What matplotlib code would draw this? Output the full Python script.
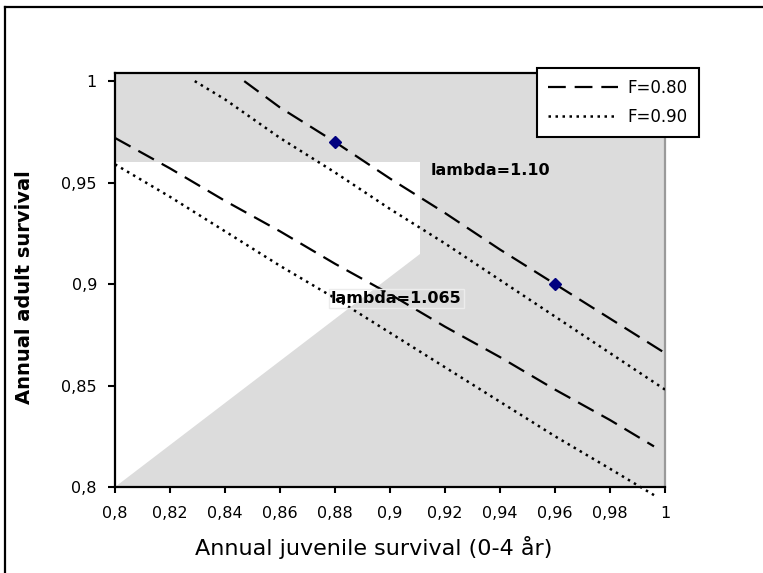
import matplotlib.pyplot as plt
import numpy as np
from matplotlib.lines import Line2D
from matplotlib.ticker import FuncFormatter

# lambda = 1.065 iso-lines
juv_low_f80 = [0.80, 0.82, 0.84, 0.86, 0.88, 0.90, 0.92, 0.94, 0.96, 0.98, 0.996]
ad_low_f80 = [0.972, 0.957, 0.941, 0.926, 0.910, 0.895, 0.879, 0.864, 0.848, 0.833, 0.820]
juv_low_f90 = [0.80, 0.82, 0.84, 0.86, 0.88, 0.90, 0.92, 0.94, 0.96, 0.98, 0.996]
ad_low_f90 = [0.959, 0.943, 0.926, 0.909, 0.893, 0.876, 0.859, 0.842, 0.825, 0.809, 0.796]

# lambda = 1.10 iso-lines
juv_high_f80 = [0.847, 0.86, 0.88, 0.90, 0.92, 0.94, 0.96, 0.98, 1.00]
ad_high_f80 = [1.000, 0.987, 0.970, 0.952, 0.935, 0.917, 0.900, 0.883, 0.866]
juv_high_f90 = [0.829, 0.84, 0.86, 0.88, 0.90, 0.92, 0.94, 0.96, 0.98, 1.00]
ad_high_f90 = [1.000, 0.991, 0.972, 0.955, 0.937, 0.920, 0.902, 0.884, 0.866, 0.848]

# observed points
pts_juv = [0.88, 0.96]
pts_ad = [0.97, 0.90]

# white (unshaded) region
white_x = [0.8, 0.8, 0.911, 0.911, 0.8]
white_y = [0.8, 0.96, 0.96, 0.915, 0.8]

xticks = [0.8, 0.82, 0.84, 0.86, 0.88, 0.9, 0.92, 0.94, 0.96, 0.98, 1.0]
yticks = [0.8, 0.85, 0.9, 0.95, 1.0]

fig = plt.figure(figsize=(7.63, 5.73), dpi=100)
ax = fig.add_axes([115 / 763, 1 - 487 / 573, 550 / 763, 414 / 573])

ax.set_facecolor('#dcdcdc')
ax.fill(white_x, white_y, color='white', lw=0, zorder=1)

ax.plot(juv_low_f80, ad_low_f80, color='black', lw=1.6, ls=(0, (8, 4)), label='F=0.80', zorder=3)
ax.plot(juv_low_f90, ad_low_f90, color='black', lw=1.8, ls=(0, (1, 1.8)), label='F=0.90', zorder=3, clip_on=False)
ax.plot(juv_high_f80, ad_high_f80, color='black', lw=1.6, ls=(0, (8, 4)), zorder=3)
ax.plot(juv_high_f90, ad_high_f90, color='black', lw=1.8, ls=(0, (1, 1.8)), zorder=3)
ax.plot(pts_juv, pts_ad, ls='none', marker='D', ms=6.5, color='#000080', zorder=4)

ax.text(0.9149, 0.956, 'lambda=1.10', fontsize=11.5, fontweight='bold', va='center', ha='left', zorder=5)
ax.text(0.8785, 0.893, 'lambda=1.065', fontsize=11.5, fontweight='bold', va='center', ha='left', zorder=5,
        bbox=dict(facecolor='none', edgecolor='#ececec', pad=1.5))

ax.set_xlim(0.8, 1.0)
ax.set_ylim(0.8, 1.004)
ax.set_xticks(xticks)
ax.set_yticks(yticks)
fmt = FuncFormatter(lambda v, p: ('%g' % v).replace('.', ','))
ax.xaxis.set_major_formatter(fmt)
ax.yaxis.set_major_formatter(fmt)
ax.tick_params(axis='x', direction='out', length=4, width=1.5, pad=10, labelsize=11.5)
ax.tick_params(axis='y', direction='out', length=5, width=1.5, pad=8, labelsize=11.5)

for s in ['left', 'bottom', 'top']:
    ax.spines[s].set_linewidth(1.6)
    ax.spines[s].set_color('black')
ax.spines['right'].set_color('#9a9a9a')
ax.spines['right'].set_linewidth(1.6)

ax.set_xlabel('Annual juvenile survival (0-4 år)', fontsize=16)
ax.xaxis.set_label_coords(0.471, -0.145)
ax.xaxis.label.set_va('center')
ax.set_ylabel('Annual adult survival', fontsize=14, fontweight='bold')
ax.yaxis.set_label_coords(-0.164, 0.483)
ax.yaxis.label.set_va('center')

leg = ax.legend(loc='upper left', bbox_to_anchor=(537 / 763, 1 - 68 / 573), bbox_transform=fig.transFigure,
                frameon=True, fancybox=False, edgecolor='black', framealpha=1, fontsize=12,
                handlelength=4.2, handletextpad=0.6, labelspacing=0.65, borderpad=0.65, borderaxespad=0)
leg.get_frame().set_linewidth(1.5)
leg.set_zorder(10)

# outer chart border (top and left edges visible)
fig.add_artist(Line2D([5 / 763, 5 / 763], [0, 1 - 7 / 573], color='black', lw=1.6))
fig.add_artist(Line2D([5 / 763, 1], [1 - 7 / 573, 1 - 7 / 573], color='black', lw=1.6))

fig.savefig('out.png', dpi=100)
